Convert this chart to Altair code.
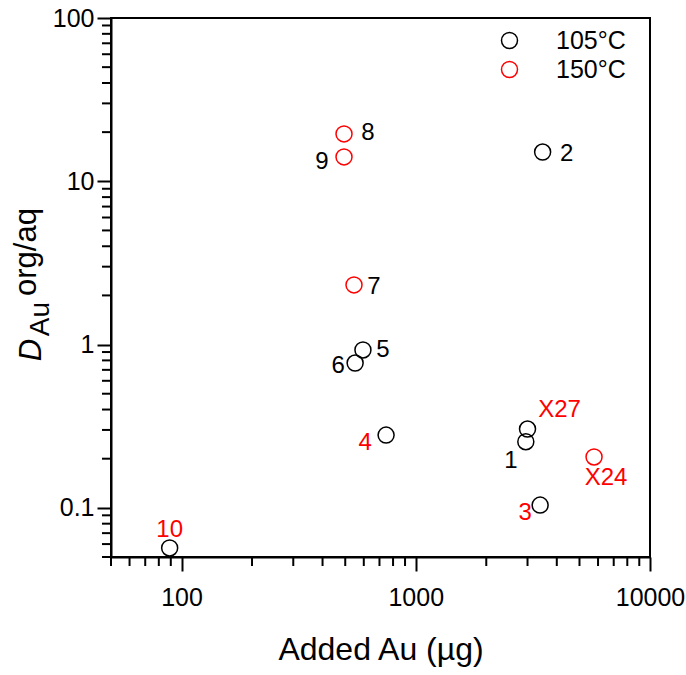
import altair as alt
import pandas as pd

# ---- data ----
labels = ["1", "2", "3", "4", "5", "6", "7", "8", "9", "10", "X24", "X27"]
added_au = [2950, 3480, 3396, 747, 595, 551, 545, 494, 494, 89, 5770, 3000]
d_au = [0.254, 15.1, 0.104, 0.279, 0.927, 0.771, 2.32, 19.5, 14.1, 0.0568, 0.205, 0.304]
point_temp = ["105°C", "105°C", "105°C", "105°C", "105°C", "105°C", "150°C", "150°C",
              "150°C", "105°C", "150°C", "105°C"]
label_temp = ["105°C", "105°C", "150°C", "150°C", "105°C", "105°C", "105°C", "105°C",
              "105°C", "150°C", "150°C", "150°C"]

temps = ["105°C", "150°C"]
x_major = [100, 1000, 10000]
x_minor = [50, 60, 70, 80, 90, 200, 300, 400, 500, 600, 700, 800, 900,
           2000, 3000, 4000, 5000, 6000, 7000, 8000, 9000]
y_major = [0.1, 1, 10, 100]
y_minor = [0.05, 0.06, 0.07, 0.08, 0.09, 0.2, 0.3, 0.4, 0.5, 0.6, 0.7, 0.8, 0.9,
           2, 3, 4, 5, 6, 7, 8, 9, 20, 30, 40, 50, 60, 70, 80, 90]

df = pd.DataFrame({"label": labels, "x": added_au, "y": d_au,
                   "temp": point_temp, "ltemp": label_temp})

FONT = "Liberation Sans"
W, H = 539, 539
MAJ, MIN = 14, 9

xscale = alt.Scale(type="log", domain=[50, 10000], nice=False)
yscale = alt.Scale(type="log", domain=[0.05, 100], nice=False)

points = alt.Chart(df).mark_point(shape="circle", filled=False, size=256, strokeWidth=1.5,
                                  opacity=1).encode(
    x=alt.X("x:Q", scale=xscale,
            axis=alt.Axis(values=x_major, format="~g", title="Added Au (µg)", grid=False,
                          tickSize=MAJ, tickWidth=2, tickColor="black", domainColor="black",
                          domainWidth=2, labelFontSize=25, labelFont=FONT, labelColor="black",
                          labelPadding=14, labelFlush=False, labelOverlap=False,
                          titleFontSize=32, titleFont=FONT,
                          titleFontWeight="normal", titleColor="black", titlePadding=24)),
    y=alt.Y("y:Q", scale=yscale,
            axis=alt.Axis(values=y_major, format="~g", title=None, grid=False,
                          tickSize=MAJ, tickWidth=2, tickColor="black", domainColor="black",
                          domainWidth=2, labelFontSize=25, labelFont=FONT, labelColor="black",
                          labelPadding=3, labelFlush=False, labelOverlap=False)),
    color=alt.Color("temp:N", scale=alt.Scale(domain=temps, range=["black", "red"]),
                    legend=alt.Legend(title=None, orient="none", legendX=386, legendY=10,
                                      symbolType="circle", symbolSize=256,
                                      symbolStrokeWidth=1.5,
                                      labelFontSize=25, labelFont=FONT, labelColor="black",
                                      labelOffset=34, rowPadding=3, padding=0)),
)

# per-label offsets (styling)
offsets = {"1": (-15, 19), "2": (24, 2), "3": (-15, 8), "4": (-21, 8), "5": (20, 0),
           "6": (-17, 3), "7": (20, 2), "8": (24, -1), "9": (-22, 5), "10": (0, -18),
           "X24": (12, 21), "X27": (32, -19)}

text_layers = []
for lab, (dx, dy) in offsets.items():
    text_layers.append(
        alt.Chart(df).transform_filter(alt.datum.label == lab).mark_text(
            dx=dx, dy=dy, fontSize=24, font=FONT, align="center", baseline="middle"
        ).encode(
            x=alt.X("x:Q", scale=xscale),
            y=alt.Y("y:Q", scale=yscale),
            text="label:N",
            color=alt.Color("ltemp:N", scale=alt.Scale(domain=temps, range=["black", "red"]),
                            legend=None),
        )
    )
labels_layer = alt.layer(*text_layers)

# minor ticks
xminor_df = pd.DataFrame({"v": x_minor})
yminor_df = pd.DataFrame({"v": y_minor})
xminor = alt.Chart(xminor_df).mark_rule(color="black", strokeWidth=2).encode(
    x=alt.X("v:Q", scale=xscale), y=alt.value(H), y2=alt.value(H + MIN))
yminor = alt.Chart(yminor_df).mark_rule(color="black", strokeWidth=2).encode(
    y=alt.Y("v:Q", scale=yscale), x=alt.value(0), x2=alt.value(-MIN))

# y axis title built from pieces: D (italic), Au (subscript), org/aq (superscript)
title_df = pd.DataFrame({"t": ["D"]})
t_D = alt.Chart(title_df).mark_text(text="D", angle=270, fontSize=31, fontStyle="italic",
                                    font=FONT, align="center", baseline="middle", color="black"
                                    ).encode(x=alt.value(-79), y=alt.value(332))
t_Au = alt.Chart(title_df).mark_text(text="Au", angle=270, fontSize=28, font=FONT,
                                     align="center", baseline="middle", color="black"
                                     ).encode(x=alt.value(-70), y=alt.value(301))
t_sup = alt.Chart(title_df).mark_text(text="org/aq", angle=270, fontSize=31, font=FONT,
                                      align="center", baseline="middle", color="black"
                                      ).encode(x=alt.value(-84), y=alt.value(234))

chart = alt.layer(xminor, yminor, points, labels_layer, t_D, t_Au, t_sup).resolve_scale(
    color="independent"
).properties(
    width=W, height=H, autosize="none",
    padding={"left": 111, "top": 18, "right": 36, "bottom": 118},
    background="white",
).configure_view(stroke="black", strokeWidth=2)

chart.save("out.html", embed_options={"renderer": "svg", "actions": False})
